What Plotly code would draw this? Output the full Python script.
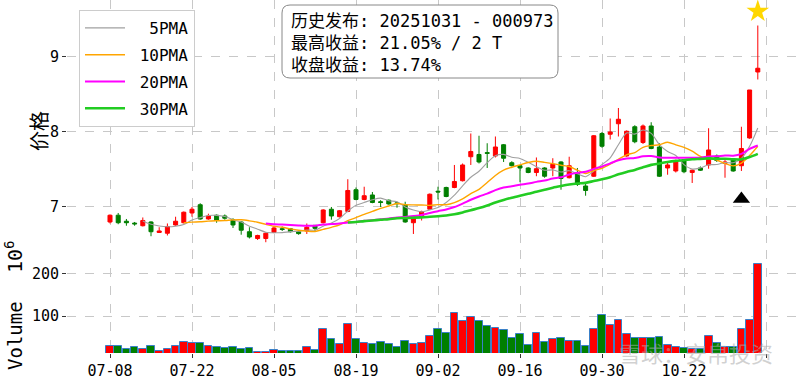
import pandas as pd
import plotly.graph_objects as go

# ---------------- data ----------------
tick_labels = ["07-08", "07-22", "08-05", "08-19", "09-02", "09-16", "09-30", "10-22", ""]
tick_step = 10

opens = [6.80, 6.89, 6.81, 6.785, 6.75, 6.80, 6.66, 6.65, 6.76, 6.79,
         6.92, 7.03, 6.84, 6.89, 6.88, 6.83, 6.80, 6.67, 6.58, 6.58,
         6.66, 6.71, 6.71, 6.67, 6.68, 6.755, 6.79, 6.97, 6.87, 6.94,
         7.23, 7.10, 7.16, 7.07, 7.09, 7.055, 7.03, 6.79, 6.86, 6.97,
         7.21, 7.26, 7.26, 7.35, 7.67, 7.70, 7.725, 7.68, 7.83, 7.59,
         7.55, 7.52, 7.46, 7.52, 7.52, 7.60, 7.39, 7.45, 7.28, 7.41,
         7.98, 7.97, 8.11, 7.68, 8.07, 7.86, 8.08, 7.80, 7.52, 7.48,
         7.63, 7.46, 7.52, 7.56, 7.68, 7.58, 7.63, 7.55, 7.92, 8.80]
highs = [6.90, 6.92, 6.84, 6.80, 6.86, 6.81, 6.73, 6.78, 6.87, 6.94,
         7.00, 7.05, 6.91, 6.90, 6.90, 6.85, 6.81, 6.73, 6.63, 6.66,
         6.74, 6.74, 6.72, 6.68, 6.78, 6.76, 6.97, 7.00, 6.96, 7.37,
         7.26, 7.27, 7.20, 7.09, 7.10, 7.07, 7.07, 6.86, 6.95, 7.18,
         7.27, 7.27, 7.56, 7.58, 7.98, 7.95, 7.85, 7.94, 7.84, 7.61,
         7.56, 7.53, 7.66, 7.53, 7.65, 7.61, 7.67, 7.52, 7.31, 7.96,
         8.00, 8.18, 8.32, 8.02, 8.09, 8.10, 8.13, 7.85, 7.61, 7.63,
         7.64, 7.50, 7.54, 8.05, 7.70, 7.63, 7.64, 8.07, 8.56, 9.42]
lows = [6.78, 6.77, 6.75, 6.75, 6.74, 6.61, 6.655, 6.62, 6.75, 6.78,
        6.87, 6.83, 6.83, 6.79, 6.83, 6.72, 6.63, 6.58, 6.56, 6.53,
        6.65, 6.68, 6.66, 6.63, 6.64, 6.67, 6.78, 6.83, 6.86, 6.93,
        7.09, 7.09, 7.05, 7.00, 7.03, 6.99, 6.79, 6.64, 6.82, 6.96,
        7.10, 7.13, 7.25, 7.34, 7.56, 7.58, 7.52, 7.66, 7.60, 7.54,
        7.33, 7.45, 7.41, 7.39, 7.41, 7.23, 7.38, 7.28, 7.15, 7.40,
        7.79, 7.90, 7.94, 7.67, 7.85, 7.84, 7.77, 7.40, 7.43, 7.46,
        7.45, 7.32, 7.48, 7.51, 7.60, 7.39, 7.47, 7.48, 7.91, 8.70]
closes = [6.89, 6.79, 6.79, 6.775, 6.82, 6.67, 6.68, 6.74, 6.81, 6.93,
          6.97, 6.84, 6.88, 6.82, 6.85, 6.76, 6.69, 6.60, 6.62, 6.65,
          6.72, 6.70, 6.67, 6.645, 6.73, 6.715, 6.96, 6.88, 6.95, 7.22,
          7.10, 7.15, 7.06, 7.06, 7.04, 7.045, 6.80, 6.85, 6.94, 7.17,
          7.20, 7.14, 7.34, 7.56, 7.74, 7.60, 7.715, 7.80, 7.65, 7.55,
          7.52, 7.46, 7.51, 7.41, 7.57, 7.38, 7.55, 7.30, 7.22, 7.95,
          7.81, 8.00, 8.17, 8.01, 7.87, 8.08, 7.78, 7.41, 7.56, 7.60,
          7.47, 7.49, 7.49, 7.76, 7.62, 7.60, 7.48, 7.78, 8.56, 8.85]
volumes = [28.5, 28.5, 20.7, 27, 22.3, 28.5, 16.7, 22.3, 28.5, 38.7,
           36.4, 36.4, 28.5, 27, 23, 25.4, 20.7, 23, 13.7, 13.7,
           18.3, 16, 16, 16, 27, 18.3, 68, 44.3, 32.5, 80.4,
           45.8, 34.9, 33.4, 37.2, 32.5, 27, 41, 32.5, 34.9, 51.3,
           70.2, 58.4, 108, 87.5, 97.7, 87.5, 77.3, 72.6, 66.3, 46.7,
           56.1, 30.9, 58.4, 38.7, 45.8, 48.1, 41, 41, 28.5, 68.6,
           101.7, 78.8, 91.5, 56.1, 48.1, 48.1, 46.7, 48.9, 30.9, 25.4,
           24, 22.3, 22.3, 51.3, 34.9, 25.4, 27, 68.6, 89.9, 223.6]  # x 1e6

ma_windows = [5, 10, 20, 30]
ma_names = ["5PMA", "10PMA", "20PMA", "30PMA"]
publish_index = 77          # 2025-10-31
peak_index = 79
info_lines = ["历史发布: 20251031 - 000973", "最高收益: 21.05% / 2 T", "收盘收益: 13.74%"]
watermark = "雪球：安帛投资"

# ---------------- styling ----------------
W, H = 800, 380
ML, MR, MT, MB = 67, 0, 0, 27
PW, PH = W - ML - MR, H - MT - MB
RED, GREEN = "#ff0000", "#007f00"
ma_colors = ["#a0a0a0", "#ffa500", "#ff00ff", "#22cc22"]
ma_widths = [1.1, 1.4, 2.0, 2.6]
MONO = "DejaVu Sans Mono, Noto Sans CJK SC, sans-serif"
CJK = "Noto Sans CJK SC, sans-serif"
GRID = "#c8c8c8"
NB = "\u00a0"


def px_x(p):
    return (p - ML) / PW


def px_y(p):
    return 1 - (p - MT) / PH


x = list(range(len(closes)))
close_s = pd.Series(closes)
name_w = max(len(s) for s in ma_names)

fig = go.Figure()

# moving averages (computed from closes)
for w, name, col, lw in zip(ma_windows, ma_names, ma_colors, ma_widths):
    ma = close_s.rolling(w).mean()
    label = NB * (name_w - len(name) + 1) + name   # right-aligned like the reference
    fig.add_trace(go.Scatter(
        x=x, y=ma, mode="lines", name=label, legendgroup=name,
        line=dict(color=col, width=lw, shape="spline", smoothing=0.8),
        xaxis="x2", yaxis="y2", hoverinfo="skip"))

fig.add_trace(go.Candlestick(
    x=x, open=opens, high=highs, low=lows, close=closes,
    increasing=dict(line=dict(color=RED, width=1), fillcolor=RED),
    decreasing=dict(line=dict(color=GREEN, width=1), fillcolor=GREEN),
    whiskerwidth=0, showlegend=False, xaxis="x2", yaxis="y2"))

# markers: publish day and peak
fig.add_trace(go.Scatter(
    x=[publish_index], y=[lows[publish_index] * 0.95], mode="markers",
    marker=dict(symbol="triangle-up", size=15, color="black"),
    showlegend=False, xaxis="x2", yaxis="y2"))
fig.add_trace(go.Scatter(
    x=[peak_index], y=[highs[peak_index] * 1.02], mode="markers",
    marker=dict(symbol="star", size=17, color="#ffd700", line=dict(width=0)),
    showlegend=False, xaxis="x2", yaxis="y2"))

vol_colors = [RED if c >= o else GREEN for o, c in zip(opens, closes)]
fig.add_trace(go.Bar(
    x=x, y=volumes, width=0.95,
    marker=dict(color=vol_colors, line=dict(color="#3a80c8", width=1)),
    showlegend=False, xaxis="x", yaxis="y"))

tickvals = list(range(0, tick_step * len(tick_labels), tick_step))
xr = [-43 / 8.2, (PW - 43) / 8.2]

axis_common = dict(showgrid=True, gridcolor=GRID, griddash="dash", gridwidth=1,
                   zeroline=False, showline=False, ticks="outside", ticklen=4,
                   tickcolor="#333", automargin=False,
                   tickfont=dict(family=MONO, size=15, color="black"))

fig.update_layout(
    width=W, height=H, margin=dict(l=ML, r=MR, t=MT, b=MB, autoexpand=False),
    paper_bgcolor="white", plot_bgcolor="white",
    bargap=0, showlegend=True,
    xaxis=dict(domain=[0, 1], anchor="y", range=xr, tickmode="array",
               tickvals=tickvals, ticktext=tick_labels, **axis_common),
    yaxis=dict(domain=[0, px_y(250)], range=[12, 257], tickvals=[100, 200],
               **axis_common),
    xaxis2=dict(domain=[0, 1], anchor="y2", matches="x", showticklabels=False,
                tickvals=tickvals, showgrid=True, gridcolor=GRID, griddash="dash",
                zeroline=False, ticks="", rangeslider=dict(visible=False)),
    yaxis2=dict(domain=[px_y(248), 1], range=[6.453, 9.76], tickvals=[7, 8, 9],
                **axis_common),
    legend=dict(x=px_x(79), y=px_y(10), xanchor="left", yanchor="top",
                bgcolor="white", bordercolor="#cccccc", borderwidth=1,
                font=dict(family=MONO, size=16, color="black"),
                tracegroupgap=3, itemwidth=40),
)

# info box with rounded corners
bx0, bx1, by0, by1, r = px_x(282), px_x(558), px_y(5), px_y(78), 8
rx, ry = r / PW, r / PH
path = (f"M {bx0+rx},{by0} L {bx1-rx},{by0} Q {bx1},{by0} {bx1},{by0-ry} "
        f"L {bx1},{by1+ry} Q {bx1},{by1} {bx1-rx},{by1} L {bx0+rx},{by1} "
        f"Q {bx0},{by1} {bx0},{by1+ry} L {bx0},{by0-ry} Q {bx0},{by0} {bx0+rx},{by0} Z")
fig.add_shape(type="path", path=path, xref="paper", yref="paper",
              line=dict(color="#888888", width=1), fillcolor="white", layer="above")
fig.add_annotation(x=px_x(289), y=px_y(9), xref="paper", yref="paper",
                   xanchor="left", yanchor="top", align="left", showarrow=False,
                   text="<br>".join(info_lines),
                   font=dict(family=MONO, size=17, color="black"))

# axis titles
fig.add_annotation(x=px_x(38), y=px_y(131), xref="paper", yref="paper",
                   xanchor="center", yanchor="middle",
                   text="价格", textangle=-90, showarrow=False,
                   font=dict(family=CJK, size=20, color="black"))
fig.add_annotation(x=px_x(15), y=px_y(336), xref="paper", yref="paper",
                   xanchor="center", yanchor="middle",
                   text="Volume", textangle=-90, showarrow=False,
                   font=dict(family=MONO, size=19, color="black"))
fig.add_annotation(x=px_x(14), y=px_y(257), xref="paper", yref="paper",
                   xanchor="center", yanchor="middle",
                   text="10<sup>6</sup>", textangle=-90, showarrow=False,
                   font=dict(family=MONO, size=20, color="black"))

# watermark
fig.add_annotation(x=px_x(696), y=px_y(352), xref="paper", yref="paper",
                   xanchor="center", yanchor="middle",
                   text=watermark, showarrow=False,
                   font=dict(family=CJK, size=22, color="rgba(170,170,170,0.55)"))

fig.write_html("out.html", config={"displayModeBar": False},
               post_script="document.body.style.margin='0px';")
